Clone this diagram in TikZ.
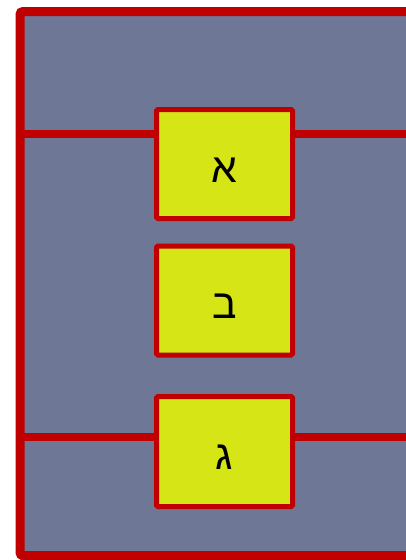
\documentclass[tikz,border=0pt]{standalone}
\usepackage{fontspec}
\newfontfamily\hebfont[Script=Hebrew]{Liberation Sans}
\TeXXeTstate=1
\definecolor{framered}{RGB}{192,0,0}
\definecolor{panelblue}{RGB}{110,120,150}
\definecolor{boxyellow}{RGB}{214,229,22}
\pgfdeclarelayer{panel}
\pgfdeclarelayer{wires}
\pgfsetlayers{panel,wires,main}
\newcommand{\heb}[1]{\raisebox{-6pt}[\height][\depth]{\beginR #1\endR}}
\tikzset{
  letterbox/.style={draw=framered, line width=5pt, fill=boxyellow, rounded corners=1.5pt,
    minimum width=136pt, minimum height=109pt, inner sep=0pt,
    font=\hebfont\fontsize{41}{45}\selectfont, text=black},
  wire/.style={draw=framered, line width=8pt},
  framestyle/.style={draw=framered, line width=9pt, rounded corners=3pt}
}
\begin{document}
\begin{tikzpicture}[x=1pt,y=-1pt]
\useasboundingbox (0,0) rectangle (405,560);
\clip (0,0) rectangle (405,560);
\coordinate (ftop) at (420,11.5);
\coordinate (fcornerA) at (20,11.5);
\coordinate (fcornerB) at (20,555.5);
\coordinate (fbot) at (420,555.5);
\coordinate (l1) at (20,134);
\coordinate (r1) at (420,134);
\coordinate (l3) at (20,436.5);
\coordinate (r3) at (420,436.5);
\node[letterbox] (a) at (224.5,164) {\heb{א}};
\node[letterbox] (b) at (224.5,300.5) {\heb{ב}};
\node[letterbox, minimum height=110pt] (g) at (224.5,451.5) {\heb{ג}};
\begin{pgfonlayer}{panel}
\fill[panelblue] (fcornerA) rectangle (420,570);
\end{pgfonlayer}
\begin{pgfonlayer}{wires}
\draw[wire] (l1) -- (r1);
\draw[wire] (l3) -- (r3);
\draw[framestyle] (ftop) -- (fcornerA) -- (fcornerB) -- (fbot);
\end{pgfonlayer}
\end{tikzpicture}
\end{document}
